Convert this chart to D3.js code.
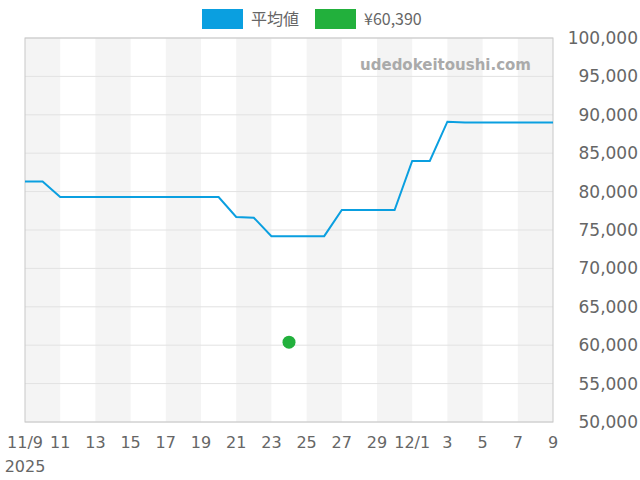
<!DOCTYPE html>
<html><head><meta charset="utf-8">
<script src="https://cdn.jsdelivr.net/npm/d3@7"></script>
<style>body{margin:0;background:#fff;font-family:"DejaVu Sans",sans-serif;}</style>
</head><body><svg id="c" width="640" height="480"></svg>
<script>
// daily average price, 11/9 .. 12/9
const days = d3.range(0, 31);
const avgValues = [81300, 81300, 79300, 79300, 79300, 79300, 79300, 79300, 79300, 79300, 79300, 79300,
  76700, 76600, 74200, 74200, 74200, 74200, 77600, 77600, 77600, 77600, 84000, 84000,
  89100, 89000, 89000, 89000, 89000, 89000, 89000];
const pointDay = 15, pointValue = 60390;
const yTicks = d3.range(50000, 100001, 5000);
const xTickLabels = ["11/9", "11", "13", "15", "17", "19", "21", "23", "25", "27", "29", "12/1", "3", "5", "7", "9"];

const svg = d3.select("#c");
const L = 25, R = 553, T = 38, B = 422;
const start = new Date(2025, 10, 9);
const x = d3.scaleTime().domain([start, d3.timeDay.offset(start, 30)]).range([L, R]);
const y = d3.scaleLinear().domain([50000, 100000]).range([B, T]);
const dayDate = d => d3.timeDay.offset(start, d);

// alternating bands
svg.selectAll(".band").data(d3.range(0, 30, 4)).join("rect")
  .attr("x", d => x(dayDate(d))).attr("width", d => x(dayDate(d + 2)) - x(dayDate(d)))
  .attr("y", T).attr("height", B - T).attr("fill", "#f4f4f4");

// grid
svg.selectAll(".grid").data(yTicks).join("line")
  .attr("x1", L).attr("x2", R).attr("y1", d => y(d)).attr("y2", d => y(d))
  .attr("stroke", "#e2e2e2");
svg.append("rect").attr("x", L).attr("y", T).attr("width", R - L).attr("height", B - T)
  .attr("fill", "none").attr("stroke", "#c8c8c8");

// y labels (right)
svg.selectAll(".yl").data(yTicks).join("text")
  .attr("x", 638).attr("y", d => y(d) + 6).attr("text-anchor", "end")
  .attr("font-size", 17).attr("fill", "#666").text(d => d3.format(",")(d));

// x labels
svg.selectAll(".xl").data(xTickLabels).join("text")
  .attr("x", (d, i) => x(dayDate(i * 2))).attr("y", 448).attr("text-anchor", "middle")
  .attr("font-size", 16).attr("fill", "#666").text(d => d);
svg.append("text").attr("x", L).attr("y", 472).attr("text-anchor", "middle")
  .attr("font-size", 16).attr("fill", "#666").text("2025");

// watermark
svg.append("text").attr("x", 531).attr("y", 70).attr("text-anchor", "end")
  .attr("font-size", 15).attr("font-weight", "bold").attr("fill", "#aaa").text("udedokeitoushi.com");

// line
svg.append("path").datum(days)
  .attr("d", d3.line().x(d => x(dayDate(d))).y(d => y(avgValues[d])))
  .attr("fill", "none").attr("stroke", "#0a9fe0").attr("stroke-width", 2);

svg.append("circle").attr("cx", x(dayDate(pointDay))).attr("cy", y(pointValue))
  .attr("r", 6.5).attr("fill", "#22b03c");

// legend
const legend = [["平均値", "#0a9fe0", 202], ["¥60,390", "#22b03c", 315]];
legend.forEach(([t, c, lx]) => {
  svg.append("rect").attr("x", lx).attr("y", 9).attr("width", 41).attr("height", 20).attr("fill", c);
  svg.append("text").attr("x", lx + 49).attr("y", 25).attr("font-size", 16).attr("fill", "#666")
    .attr("font-family", "'Noto Sans CJK JP','DejaVu Sans',sans-serif").text(t);
});
</script></body></html>
